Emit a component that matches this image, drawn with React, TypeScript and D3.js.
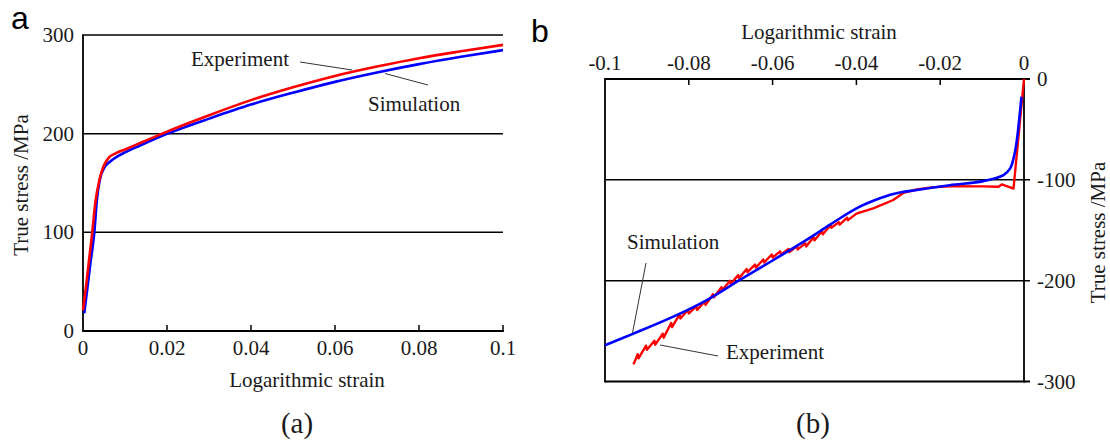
import React from "react";
import * as d3 from "d3";

// ---------- Panel (a): tension ----------
const expTensionStrain = [0, 0.0008, 0.0015, 0.0022, 0.0029, 0.0039, 0.0048, 0.006, 0.008, 0.01, 0.0136, 0.0183, 0.0247, 0.0302, 0.04, 0.05, 0.06, 0.07, 0.08, 0.09, 0.1];
const expTensionStress = [21, 48, 74, 100, 129, 153, 166, 175, 180.5, 184, 190.5, 199, 210, 219, 234, 247, 258.5, 268, 276.5, 283.5, 290];

const simTensionStrain = [0.0003, 0.001, 0.0018, 0.0027, 0.0033, 0.004, 0.0052, 0.0064, 0.0084, 0.01, 0.0136, 0.02, 0.0302, 0.04, 0.05, 0.06, 0.07, 0.08, 0.09, 0.1];
const simTensionStress = [18, 42, 70, 100, 132.7, 153, 166.4, 171.5, 177.5, 181, 188, 199.8, 215.5, 229.5, 241.5, 252.5, 262, 270.5, 278, 284.7];

const xTicksA = [0, 0.02, 0.04, 0.06, 0.08, 0.1];
const xTickLabelsA = ["0", "0.02", "0.04", "0.06", "0.08", "0.1"];
const yTicksA = [0, 100, 200, 300];
const yTickLabelsA = ["0", "100", "200", "300"];

// ---------- Panel (b): compression ----------
const expCompStrain = [
  0, -0.0025, -0.004, -0.0053, -0.0061, -0.01, -0.0177, -0.022, -0.0256, -0.0288, -0.0312, -0.036, -0.04,
  -0.042, -0.0422, -0.044, -0.0442, -0.046, -0.0462, -0.048, -0.0482, -0.05, -0.0502, -0.052, -0.0522,
  -0.054, -0.0542, -0.056, -0.0562, -0.058, -0.0582, -0.06, -0.0602, -0.062, -0.0622, -0.064, -0.0642,
  -0.066, -0.0662, -0.068, -0.0682, -0.07, -0.0702, -0.072, -0.0722, -0.074, -0.0742, -0.076, -0.0762,
  -0.078, -0.0782, -0.08, -0.0802, -0.082, -0.0822, -0.084, -0.0842, -0.086, -0.0862, -0.088, -0.0882,
  -0.09, -0.0902, -0.092, -0.0922, -0.0932,
];
const expCompStress = [
  0, -108.6, -106.5, -104.6, -106.8, -106.5, -106.3, -107.5, -109.6, -113, -120, -128.4, -133.5,
  -140, -137.5, -144.5, -142, -147.5, -145, -154, -151, -160, -157, -166, -163,
  -169, -166, -171.5, -168.5, -174, -171, -177, -174, -182, -179, -187, -184,
  -191.5, -188.5, -197.5, -194.5, -203, -200, -209.5, -206.5, -216.5, -213.5, -224, -220.5,
  -229, -225.5, -232.5, -229, -237.5, -233.5, -246, -242, -256.5, -252.5, -263.5, -259.5,
  -268.5, -264.5, -277, -273, -283,
];

const simCompStrain = [-0.1, -0.0932, -0.0837, -0.0757, -0.0678, -0.0598, -0.0519, -0.0463, -0.0401, -0.0355, -0.0312, -0.0256, -0.0177, -0.0097, -0.0049, -0.0033, -0.0024, -0.0017, -0.001, -0.0006];
const simCompStress = [-264, -252.5, -235.7, -219.2, -199.3, -179.5, -159.6, -144.5, -128.5, -120, -114, -110, -105.3, -101.3, -95.4, -88.7, -77, -60.6, -34, -17.6];

const xTicksB = [-0.1, -0.08, -0.06, -0.04, -0.02, 0];
const xTickLabelsB = ["-0.1", "-0.08", "-0.06", "-0.04", "-0.02", "0"];
const yTicksB = [0, -100, -200, -300];
const yTickLabelsB = ["0", "-100", "-200", "-300"];

const RED = "#ff0000";
const BLUE = "#0000ff";
const INK = "#1a1a1a";
const SERIF = "Liberation Serif, DejaVu Serif, serif";
const SANS = "Liberation Sans, Arial, sans-serif";

const T = (props: any) => (
  <text {...props} style={{ fontFamily: SERIF, ...(props.style || {}) }} />
);

export default function App() {
  const xA = d3.scaleLinear().domain([0, 0.1]).range([83, 503]);
  const yA = d3.scaleLinear().domain([0, 300]).range([331, 35]);
  const xB = d3.scaleLinear().domain([-0.1, 0]).range([605, 1024]);
  const yB = d3.scaleLinear().domain([-300, 0]).range([381.5, 79]);

  const mk = (xs: number[], ys: number[], sx: any, sy: any, curve: any) =>
    d3
      .line<number>()
      .x((_, i) => sx(xs[i]))
      .y((_, i) => sy(ys[i]))
      .curve(curve)(xs) as string;

  const expA = mk(expTensionStrain, expTensionStress, xA, yA, d3.curveMonotoneX);
  const simA = mk(simTensionStrain, simTensionStress, xA, yA, d3.curveMonotoneX);
  const expB = mk(expCompStrain, expCompStress, xB, yB, d3.curveLinear);
  const simB = mk(simCompStrain, simCompStress, xB, yB, d3.curveCatmullRom.alpha(0.5));

  const fs = 21;

  return (
    <svg
      width={1110}
      height={445}
      style={{ position: "absolute", left: 0, top: 0, background: "#fff" }}
    >
      <rect x={0} y={0} width={1110} height={445} fill="#fff" />

      {/* ===== Panel a ===== */}
      <text x={11} y={29} style={{ fontFamily: SANS }} fontSize={32} fill="#000">a</text>
      {yTicksA.filter((t) => t > 0).map((t) => (
        <line key={"ga" + t} x1={xA(0)} x2={xA(0.1)} y1={yA(t)} y2={yA(t)} stroke="#000" strokeWidth={1.5} />
      ))}
      <line x1={xA(0)} x2={xA(0)} y1={yA(300) - 0.75} y2={yA(0) + 0.9} stroke="#000" strokeWidth={1.8} />
      <line x1={xA(0)} x2={xA(0.1) + 0.9} y1={yA(0)} y2={yA(0)} stroke="#000" strokeWidth={1.8} />
      {xTicksA.filter((t) => t > 0).map((t) => (
        <line key={"ta" + t} x1={xA(t)} x2={xA(t)} y1={yA(0)} y2={yA(0) - 6} stroke="#000" strokeWidth={1.5} />
      ))}
      {yTicksA.map((t, i) => (
        <T key={"yla" + t} x={74} y={yA(t)} textAnchor="end" dominantBaseline="central" fontSize={fs} fill={INK}>
          {yTickLabelsA[i]}
        </T>
      ))}
      {xTicksA.map((t, i) => (
        <T key={"xla" + t} x={xA(t)} y={348} textAnchor="middle" dominantBaseline="central" fontSize={fs} fill={INK}>
          {xTickLabelsA[i]}
        </T>
      ))}
      <T x={307} y={380} textAnchor="middle" dominantBaseline="central" fontSize={fs} fill={INK}>
        Logarithmic strain
      </T>
      <T
        transform="translate(21,185) rotate(-90)"
        textAnchor="middle"
        dominantBaseline="central"
        fontSize={fs}
        fill={INK}
      >
        True stress /MPa
      </T>
      <path d={simA} fill="none" stroke={BLUE} strokeWidth={2.6} strokeLinejoin="round" />
      <path d={expA} fill="none" stroke={RED} strokeWidth={2.6} strokeLinejoin="round" />
      <T x={191} y={66} fontSize={fs} fill={INK}>Experiment</T>
      <line x1={300} y1={62} x2={352} y2={70} stroke="#333" strokeWidth={1} />
      <line x1={385} y1={73.5} x2={428} y2={85} stroke="#333" strokeWidth={1} />
      <T x={368} y={111} fontSize={fs} fill={INK}>Simulation</T>
      <T x={297} y={433} textAnchor="middle" fontSize={29} fill={INK}>(a)</T>

      {/* ===== Panel b ===== */}
      <text x={531} y={42} style={{ fontFamily: SANS }} fontSize={32} fill="#000">b</text>
      {yTicksB.filter((t) => t < 0 && t > -300).map((t) => (
        <line key={"gb" + t} x1={xB(-0.1)} x2={xB(0) + 6} y1={yB(t)} y2={yB(t)} stroke="#000" strokeWidth={1.5} />
      ))}
      <line x1={xB(-0.1)} x2={xB(0) + 6} y1={yB(0)} y2={yB(0)} stroke="#000" strokeWidth={1.8} />
      <line x1={xB(-0.1)} x2={xB(0) + 6} y1={yB(-300)} y2={yB(-300)} stroke="#000" strokeWidth={1.8} />
      <line x1={xB(-0.1)} x2={xB(-0.1)} y1={yB(0) - 0.9} y2={yB(-300) + 0.9} stroke="#000" strokeWidth={1.8} />
      <line x1={xB(0)} x2={xB(0)} y1={yB(0) - 0.9} y2={yB(-300) + 0.9} stroke="#000" strokeWidth={1.8} />
      {xTicksB.filter((t) => t > -0.1 && t < 0).map((t) => (
        <line key={"tb" + t} x1={xB(t)} x2={xB(t)} y1={yB(0)} y2={yB(0) + 6} stroke="#000" strokeWidth={1.5} />
      ))}
      {xTicksB.map((t, i) => (
        <T key={"xlb" + t} x={xB(t)} y={63} textAnchor="middle" dominantBaseline="central" fontSize={fs} fill={INK}>
          {xTickLabelsB[i]}
        </T>
      ))}
      {yTicksB.map((t, i) => (
        <T key={"ylb" + t} x={1037} y={yB(t)} textAnchor="start" dominantBaseline="central" fontSize={fs} fill={INK}>
          {yTickLabelsB[i]}
        </T>
      ))}
      <T x={819} y={32} textAnchor="middle" dominantBaseline="central" fontSize={fs} fill={INK}>
        Logarithmic strain
      </T>
      <T
        transform="translate(1098,232.5) rotate(-90)"
        textAnchor="middle"
        dominantBaseline="central"
        fontSize={fs}
        fill={INK}
      >
        True stress /MPa
      </T>
      <path d={expB} fill="none" stroke={RED} strokeWidth={2.4} strokeLinejoin="round" />
      <path d={simB} fill="none" stroke={BLUE} strokeWidth={2.6} strokeLinejoin="round" />
      <T x={627} y={249} fontSize={fs} fill={INK}>Simulation</T>
      <line x1={646} y1={263} x2={632.5} y2={333} stroke="#333" strokeWidth={1} />
      <T x={726} y={359} fontSize={fs} fill={INK}>Experiment</T>
      <line x1={718} y1={356} x2={660} y2={345} stroke="#333" strokeWidth={1} />
      <T x={813} y={433} textAnchor="middle" fontSize={29} fill={INK}>(b)</T>
    </svg>
  );
}
